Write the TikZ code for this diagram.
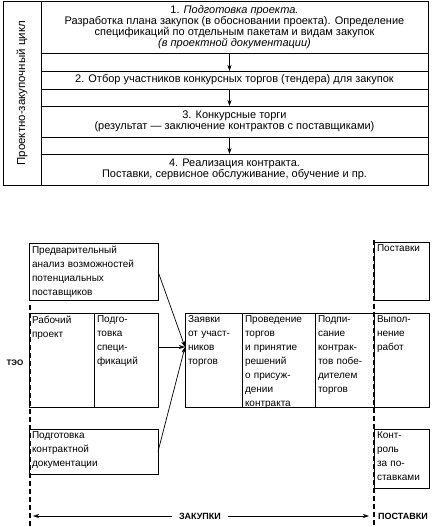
\documentclass[tikz,border=0pt]{standalone}
\usepackage{fontspec}
\setmainfont{Liberation Sans}
\usetikzlibrary{arrows.meta,positioning,calc}
\newcommand{\celda}[2]{\parbox[c][#1][t]{\linewidth}{\raggedright #2}}
\tikzset{
  fila/.style={rectangle, draw=black, line width=0.8pt, minimum width=387pt,
               inner sep=0pt, outer sep=0pt, align=center,
               font=\fontsize{11}{10.8}\selectfont},
  hueco/.style={fila, minimum height=#1},
  ciclo/.style={rectangle, draw=black, line width=0.8pt, rotate=90,
                minimum width=183.5pt, minimum height=38pt, inner sep=0pt,
                outer sep=0pt, font=\fontsize{11.5}{11.5}\selectfont},
  caja/.style={rectangle, draw=black, line width=1pt, inner sep=3pt,
               outer sep=0pt, align=left, anchor=north west,
               font=\fontsize{10}{14}\selectfont},
  flecha/.style={-{Stealth[length=6pt,width=4pt]}, line width=0.7pt},
  limite/.style={line width=2pt, dash pattern=on 5pt off 3pt},
  rotulo/.style={font=\fontsize{9}{9}\selectfont\bfseries, inner sep=1pt}
}
\begin{document}
\begin{tikzpicture}[x=1pt, y=-1pt]
  \useasboundingbox (0,0) rectangle (435,527);

  % Проектно-закупочный цикл
  \node[ciclo] (ciclo) at (22,93.25) {Проектно-закупочный цикл};
  \node[fila, minimum height=51.5pt, anchor=north west] (r1) at (41,1.5)
    {1. \textit{Подготовка проекта.}\\
     Разработка плана закупок (в обосновании проекта). Определение\\
     спецификаций по отдельным пакетам и видам закупок\\
     \textit{(в проектной документации)}};
  \node[hueco=18pt, below=0pt of r1] (h1) {};
  \node[fila, minimum height=18pt, below=0pt of h1] (r2)
    {2. Отбор участников конкурсных торгов (тендера) для закупок};
  \node[hueco=17pt, below=0pt of r2] (h2) {};
  \node[fila, minimum height=31pt, below=0pt of h2] (r3)
    {3. Конкурсные торги\\
     (результат --- заключение контрактов с поставщиками)};
  \node[hueco=17pt, below=0pt of r3] (h3) {};
  \node[fila, minimum height=31pt, below=0pt of h3] (r4)
    {4. Реализация контракта.\\
     Поставки, сервисное обслуживание, обучение и пр.};
  \draw[flecha] ([xshift=-5pt]r1.south) -- ([xshift=-5pt]r2.north);
  \draw[flecha] ([xshift=-5pt]r2.south) -- ([xshift=-5pt]r3.north);
  \draw[flecha] ([xshift=-5pt]r3.south) -- ([xshift=-5pt]r4.north);

  % Закупки
  \node[caja, text width=123pt] (pred) at (29,243)
    {\celda{51pt}{Предварительный\\анализ возможностей\\потенциальных\\поставщиков}};
  \node[caja, text width=59pt] (proj) at (29,313)
    {\celda{88pt}{Рабочий\\проект}};
  \node[caja, text width=58pt, anchor=west, right=0pt of proj] (spec)
    {\celda{88pt}{Подго-\\товка\\специ-\\фикаций}};
  \node[caja, text width=123pt] (dok) at (29,429)
    {\celda{39pt}{Подготовка\\контрактной\\документации}};
  \node[caja, text width=51pt] (zay) at (185,313)
    {\celda{88pt}{Заявки\\от участ-\\ников\\торгов}};
  \node[caja, text width=67pt, right=0pt of zay] (prov)
    {\celda{88pt}{Проведение\\торгов\\и принятие\\решений\\о присуж-\\дении\\контракта}};
  \node[caja, text width=53pt, right=0pt of prov] (podp)
    {\celda{88pt}{Подпи-\\сание\\контрак-\\тов побе-\\дителем\\торгов}};
  \node[caja, text width=49pt, right=0pt of podp] (vyp)
    {\celda{88pt}{Выпол-\\нение\\работ}};

  % Поставки
  \node[caja, text width=49pt] (post) at (374,242)
    {\celda{52pt}{Поставки}};
  \node[caja, text width=49pt] (kontr) at (374,429)
    {\celda{53pt}{Конт-\\роль\\за по-\\ставками}};

  \coordinate (vhod) at ([yshift=13pt]zay.west);
  \draw[flecha] (pred.east) -- (vhod);
  \draw[flecha] (spec.east |- vhod) -- (vhod);
  \draw[flecha] (dok.east) -- (vhod);

  % Границы
  \coordinate (teo1) at (30,305);
  \coordinate (teo2) at (30,527);
  \coordinate (pos1) at (374,240);
  \coordinate (pos2) at (374,527);
  \draw[limite] (teo1) -- (teo2);
  \draw[limite] (pos1) -- (pos2);
  \node[rotulo, font=\fontsize{8}{8}\selectfont\bfseries] (teo) at (15,363) {ТЭО};
  \node[rotulo] (zak) at (200,516) {ЗАКУПКИ};
  \node[rotulo, anchor=west] (postlbl) at (377,516) {ПОСТАВКИ};
  \draw[flecha] ([xshift=-6pt]zak.west) -- ([xshift=3pt]zak.west -| teo1);
  \draw[flecha] ([xshift=6pt]zak.east) -- ([xshift=-5pt]zak.east -| pos1);
\end{tikzpicture}
\end{document}
